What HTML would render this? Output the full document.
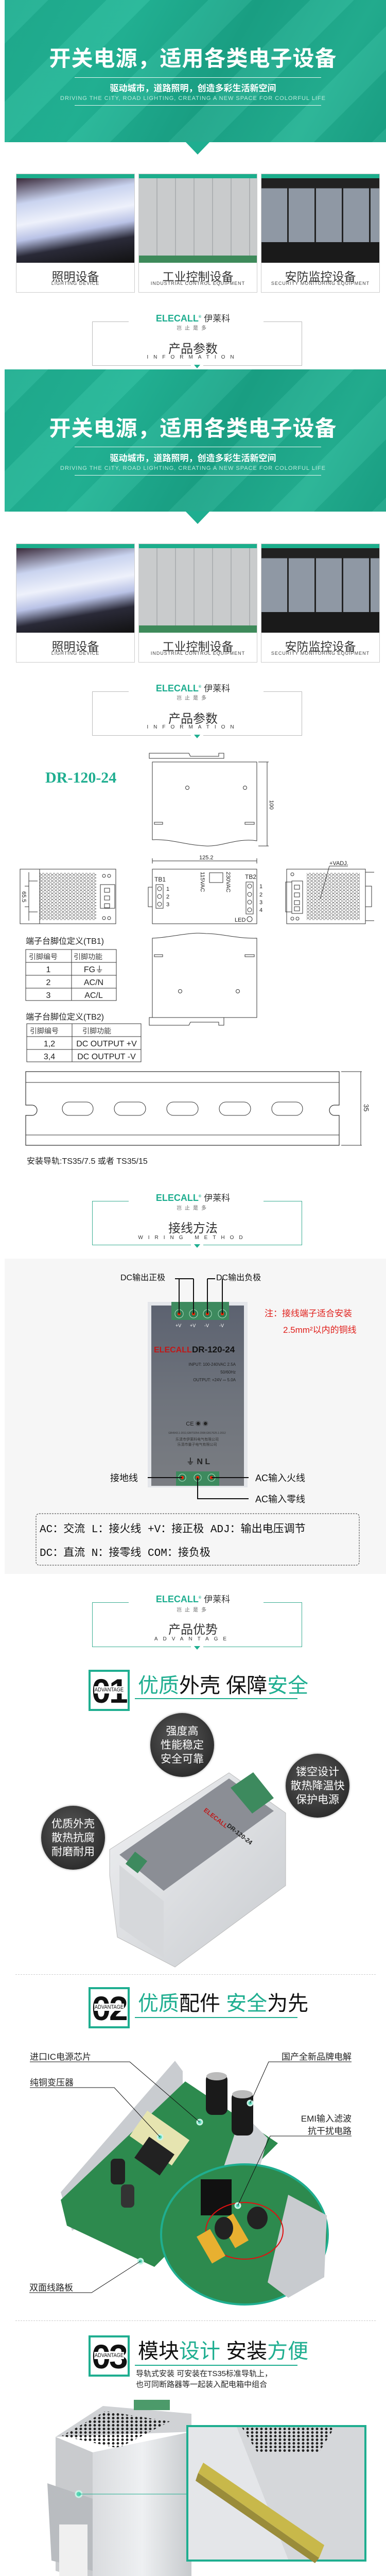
<!DOCTYPE html>
<html style="width:750px;height:5036px;overflow:hidden"><head><meta charset="utf-8">
<style>
*{margin:0;padding:0;box-sizing:border-box}
body{width:750px;height:5036px;position:relative;background:#fff;font-family:"Liberation Sans","Noto Sans CJK SC",sans-serif;overflow:hidden}
.a{position:absolute}
.c{text-align:center}
.banner{left:9px;width:741px;height:276px;background:linear-gradient(120deg,#1fae90 0%,#22b697 30%,#1aa487 55%,#23b293 80%,#1aa386 100%);overflow:hidden}
.banner:before{content:"";position:absolute;inset:0;background:repeating-linear-gradient(135deg,rgba(255,255,255,0.05) 0 60px,rgba(0,0,0,0.04) 60px 140px)}
.btitle{left:0;width:750px;color:#fff;font-size:42px;font-weight:bold;letter-spacing:1px}
.bline{left:145px;width:479px;height:1px;background:#e8f7f2}
.bsub{left:0;width:750px;color:#fff;font-size:17px;font-weight:bold}
.beng{left:0;width:750px;color:#bfeadc;font-size:11px;letter-spacing:1px}
.tri{width:0;height:0;border-left:24px solid transparent;border-right:24px solid transparent;border-top:25px solid #1fae90}
.card{width:231px;height:231px;border:1px solid #ccc;background:#fff}
.card .bar{position:absolute;left:0;top:0;width:100%;height:8px;background:#1cae8c}
.card .img{position:absolute;left:0;top:8px;width:100%;height:164px}
.card .cn{position:absolute;left:0;top:180px;width:100%;text-align:center;font-size:23px;color:#333}
.card .en{position:absolute;left:0;top:207px;width:100%;text-align:center;font-size:9px;color:#444;letter-spacing:1px}
.logo{left:0;width:750px;text-align:center;font-size:18px;font-weight:bold;color:#1fae90;line-height:22px}
.logo span{color:#333;font-weight:normal;font-size:17px}
.slog{left:0;width:750px;text-align:center;font-size:10px;color:#666;letter-spacing:6px}
.htitle{left:0;width:750px;text-align:center;font-size:24px;color:#333}
.heng{left:0;width:750px;text-align:center;font-size:10px;color:#333;letter-spacing:10px}
.badge{left:172px;width:80px;height:80px;border:4px solid #1fae90;background:#fff}
.badge .n{position:absolute;left:0;top:2px;width:100%;text-align:center;font-size:66px;font-weight:bold;color:#111;line-height:70px;letter-spacing:-3px}
.badge .t{position:absolute;left:2px;top:28px;width:68px;text-align:center;font-size:11px;background:#fff;color:#111;line-height:14px;transform:scaleX(0.85)}
.atitle{left:268px;font-size:40px;color:#111;white-space:nowrap;line-height:48px}
.atitle b{font-weight:normal;color:#1fae90}
.uline{left:262px;width:316px;height:2px;background:#1fae90}
.circ{width:124px;height:124px;border-radius:50%;background:radial-gradient(circle at 45% 40%,#5a5a5a,#2c2c2c 75%,#222);color:#fff;text-align:center;font-size:21px;line-height:27px;padding-top:22px;box-shadow:0 0 4px rgba(0,0,0,.4)}
.dsep{left:30px;width:700px;border-top:1px dashed #ccc}
</style></head><body>

<div class="a banner" style="top:0"></div>
<div class="a btitle c" style="top:80px">开关电源，适用各类电子设备</div>
<div class="a bline" style="top:150px"></div>
<div class="a bsub c" style="top:157px">驱动城市，道路照明，创造多彩生活新空间</div>
<div class="a beng c" style="top:185px">DRIVING THE CITY, ROAD LIGHTING, CREATING A NEW SPACE FOR COLORFUL LIFE</div>
<div class="a bline" style="top:204px"></div>
<div class="a tri" style="left:360px;top:275px"></div>

<div class="a card" style="left:31px;top:337px"><div class="bar"></div><div class="img" style="background:linear-gradient(170deg,#3a2a3a 0%,#c9d3ef 25%,#eef1fb 45%,#b9c2e6 60%,#2a2a38 75%,#111 100%)"></div><div class="cn">照明设备</div><div class="en">LIGHTING DEVICE</div></div>
<div class="a card" style="left:269px;top:337px"><div class="bar"></div><div class="img" style="background:repeating-linear-gradient(90deg,#c9cbcc 0 34px,#aeb1b3 34px 36px),#ccc"><div style="position:absolute;left:0;bottom:0;width:100%;height:14px;background:#3e8a5a"></div></div><div class="cn">工业控制设备</div><div class="en">INDUSTRIAL CONTROL EQUIPMENT</div></div>
<div class="a card" style="left:507px;top:337px"><div class="bar"></div><div class="img" style="background:linear-gradient(#222 0 12%,transparent 12%),repeating-linear-gradient(90deg,#8f98a4 0 50px,#222 50px 53px),#999"><div style="position:absolute;left:0;bottom:0;width:100%;height:40px;background:#1a1a1a"></div></div><div class="cn">安防监控设备</div><div class="en">SECURITY MONITORING EQUIPMENT</div></div>

<div class="a" style="left:179px;top:624px;width:408px;height:86px;border:1px solid #bbb;border-top:none"></div>
<div class="a" style="left:179px;top:624px;width:71px;height:1px;background:#bbb"></div>
<div class="a" style="left:512px;top:624px;width:75px;height:1px;background:#bbb"></div>
<div class="a" style="left:371px;top:707px;width:24px;height:6px;background:#fff"></div>
<div class="a" style="left:377px;top:708px;border-left:6px solid transparent;border-right:6px solid transparent;border-top:7px solid #1fae90"></div>
<div class="a logo" style="top:605px">ELECALL<sup style="font-size:7px">®</sup> <span>伊莱科</span></div>
<div class="a slog" style="top:628px">岂止是多</div>
<div class="a htitle" style="top:657px">产品参数</div>
<div class="a heng" style="top:688px">INFORMATION</div>

<div class="a banner" style="top:717px"></div>
<div class="a btitle c" style="top:798px">开关电源，适用各类电子设备</div>
<div class="a bline" style="top:867px"></div>
<div class="a bsub c" style="top:875px">驱动城市，道路照明，创造多彩生活新空间</div>
<div class="a beng c" style="top:903px">DRIVING THE CITY, ROAD LIGHTING, CREATING A NEW SPACE FOR COLORFUL LIFE</div>
<div class="a bline" style="top:922px"></div>
<div class="a tri" style="left:360px;top:992px"></div>

<div class="a card" style="left:31px;top:1055px"><div class="bar"></div><div class="img" style="background:linear-gradient(170deg,#3a2a3a 0%,#c9d3ef 25%,#eef1fb 45%,#b9c2e6 60%,#2a2a38 75%,#111 100%)"></div><div class="cn">照明设备</div><div class="en">LIGHTING DEVICE</div></div>
<div class="a card" style="left:269px;top:1055px"><div class="bar"></div><div class="img" style="background:repeating-linear-gradient(90deg,#c9cbcc 0 34px,#aeb1b3 34px 36px),#ccc"><div style="position:absolute;left:0;bottom:0;width:100%;height:14px;background:#3e8a5a"></div></div><div class="cn">工业控制设备</div><div class="en">INDUSTRIAL CONTROL EQUIPMENT</div></div>
<div class="a card" style="left:507px;top:1055px"><div class="bar"></div><div class="img" style="background:linear-gradient(#222 0 12%,transparent 12%),repeating-linear-gradient(90deg,#8f98a4 0 50px,#222 50px 53px),#999"><div style="position:absolute;left:0;bottom:0;width:100%;height:40px;background:#1a1a1a"></div></div><div class="cn">安防监控设备</div><div class="en">SECURITY MONITORING EQUIPMENT</div></div>

<div class="a" style="left:179px;top:1342px;width:408px;height:86px;border:1px solid #bbb;border-top:none"></div>
<div class="a" style="left:179px;top:1342px;width:71px;height:1px;background:#bbb"></div>
<div class="a" style="left:512px;top:1342px;width:75px;height:1px;background:#bbb"></div>
<div class="a" style="left:371px;top:1425px;width:24px;height:6px;background:#fff"></div>
<div class="a" style="left:377px;top:1426px;border-left:6px solid transparent;border-right:6px solid transparent;border-top:7px solid #1fae90"></div>
<div class="a logo" style="top:1323px">ELECALL<sup style="font-size:7px">®</sup> <span>伊莱科</span></div>
<div class="a slog" style="top:1346px">岂止是多</div>
<div class="a htitle" style="top:1375px">产品参数</div>
<div class="a heng" style="top:1406px">INFORMATION</div>

<div class="a" style="left:88px;top:1493px;font-family:'Liberation Serif',serif;font-weight:bold;font-size:30px;color:#1fae90">DR-120-24</div>
<svg class="a" style="left:0;top:1440px" width="750" height="820" viewBox="0 1440 750 820" font-family="Liberation Sans,sans-serif">
<defs><pattern id="hx" width="7" height="6" patternUnits="userSpaceOnUse"><circle cx="3.5" cy="3" r="2.6" fill="none" stroke="#333" stroke-width="0.6"/></pattern></defs>
<g fill="none" stroke="#333" stroke-width="1">
<path d="M290 1462 H367 L370 1468 H425 V1462 H435 V1472 H290 Z"/>
<path d="M296 1479 H499 V1632 C460,1626 430,1644 400,1642 C360,1640 330,1628 296,1630 Z"/>
<circle cx="364" cy="1529" r="3.5"/><circle cx="476" cy="1529" r="3.5"/>
<rect x="300" y="1596" width="16" height="4"/><rect x="476" y="1596" width="18" height="4"/>
<path d="M502 1479 H522 M502 1642 H522 M519 1479 V1642"/>
<path d="M296 1671 H499 M296 1666 V1676 M499 1666 V1676"/>
<rect x="296" y="1687" width="203" height="106"/>
<rect x="288" y="1722" width="8" height="38"/>
<rect x="303" y="1717" width="14" height="46"/>
<circle cx="310" cy="1725" r="4"/><circle cx="310" cy="1740" r="4"/><circle cx="310" cy="1755" r="4"/>
<rect x="407" y="1694" width="26" height="19"/>
<rect x="478" y="1712" width="14" height="62"/>
<circle cx="485" cy="1720" r="4"/><circle cx="485" cy="1736" r="4"/><circle cx="485" cy="1751" r="4"/><circle cx="485" cy="1766" r="4"/>
<circle cx="485" cy="1784" r="5"/>
<rect x="39" y="1687" width="186" height="106"/>
<path d="M56 1693 V1787 M77 1687 V1793 M56 1710 H73 M56 1770 H73 M48 1720 H56 V1760 H48"/>
<rect x="195" y="1717" width="28" height="46"/>
<rect x="203" y="1724" width="10" height="8"/><rect x="203" y="1739" width="10" height="8"/><rect x="203" y="1754" width="10" height="8"/>
<rect x="77" y="1694" width="110" height="92" fill="url(#hx)" stroke="none"/>
<circle cx="202" cy="1700" r="3"/><circle cx="212" cy="1700" r="3"/><circle cx="202" cy="1782" r="3"/><circle cx="212" cy="1782" r="3"/>
<rect x="557" y="1687" width="153" height="106"/>
<path d="M710 1693 H727 M710 1787 H727 M710 1720 H722 V1760 H710"/>
<rect x="555" y="1712" width="12" height="58"/>
<rect x="567" y="1710" width="21" height="63"/>
<rect x="572" y="1718" width="10" height="8"/><rect x="572" y="1733" width="10" height="8"/><rect x="572" y="1748" width="10" height="8"/><rect x="572" y="1760" width="10" height="8"/>
<rect x="596" y="1694" width="103" height="92" fill="url(#hx)" stroke="none"/>
<path d="M640 1681 H676 M640 1681 L622 1745"/>
<circle cx="568" cy="1697" r="3"/><circle cx="568" cy="1783" r="3"/><circle cx="578" cy="1783" r="3"/>
<path d="M296 1821 C330,1820 370,1808 400,1812 C430,1812 460,1822 499,1821 V1975 H296 Z"/>
<rect x="300" y="1853" width="16" height="4"/><rect x="476" y="1853" width="18" height="4"/>
<circle cx="350" cy="1924" r="3.5"/><circle cx="462" cy="1924" r="3.5"/>
<path d="M290 1975 H435 V1990 H425 V1984 H370 L367 1990 H290 Z"/>
<rect x="50" y="1843" width="176" height="99"/>
<path d="M50 1868 H226 M50 1893 H226 M50 1918 H226 M139 1843 V1942"/>
<rect x="52" y="1987" width="222" height="74"/>
<path d="M52 2012 H274 M52 2037 H274 M140 1987 V2061"/>
<path d="M50 2080 H659 V2145 H650 A9 9 0 0 0 650 2165 H659 V2223 H50 V2165 H62 A9 9 0 0 0 62 2145 H50 Z" stroke-width="1.2"/>
<path d="M50 2101 H659 M50 2203 H659"/>
<rect x="121" y="2139" width="60" height="26" rx="13"/>
<rect x="222" y="2139" width="61" height="26" rx="13"/>
<rect x="324" y="2139" width="61" height="26" rx="13"/>
<rect x="426" y="2139" width="61" height="26" rx="13"/>
<rect x="528" y="2139" width="60" height="26" rx="13"/>
<path d="M663 2080 H703 M663 2223 H703 M701 2080 V2223"/>
</g>
<g font-size="11" fill="#222">
<text x="524" y="1553" transform="rotate(90 524 1553)">100</text>
<text x="387" y="1668">125.2</text>
<text x="300" y="1711" font-size="12">TB1</text>
<text x="323" y="1729">1</text><text x="323" y="1744">2</text><text x="323" y="1759">3</text>
<text x="390" y="1692" transform="rotate(90 390 1692)">115VAC</text>
<text x="440" y="1692" transform="rotate(90 440 1692)">230VAC</text>
<text x="476" y="1706" font-size="12">TB2</text>
<text x="504" y="1724">1</text><text x="504" y="1740">2</text><text x="504" y="1755">3</text><text x="504" y="1770">4</text>
<text x="456" y="1789">LED</text>
<text x="43" y="1730" transform="rotate(90 43 1730)">65.5</text>
<text x="640" y="1679">+VADJ.</text>
<text x="707" y="2143" transform="rotate(90 707 2143)" font-size="13">35</text>
</g>
<g font-size="16" fill="#222" font-family="Liberation Sans,Noto Sans CJK SC,sans-serif">
<text x="50" y="1832">端子台脚位定义(TB1)</text>
<text x="56" y="1862" font-size="14" fill="#444">引脚编号</text><text x="143" y="1862" font-size="14" fill="#444">引脚功能</text>
<text x="94" y="1887" text-anchor="middle">1</text><text x="182" y="1887" text-anchor="middle">FG⏚</text>
<text x="94" y="1912" text-anchor="middle">2</text><text x="182" y="1912" text-anchor="middle">AC/N</text>
<text x="94" y="1937" text-anchor="middle">3</text><text x="182" y="1937" text-anchor="middle">AC/L</text>
<text x="50" y="1979">端子台脚位定义(TB2)</text>
<text x="58" y="2006" font-size="14" fill="#444">引脚编号</text><text x="160" y="2006" font-size="14" fill="#444">引脚功能</text>
<text x="96" y="2031" text-anchor="middle">1,2</text><text x="207" y="2031" text-anchor="middle">DC OUTPUT +V</text>
<text x="96" y="2056" text-anchor="middle">3,4</text><text x="207" y="2056" text-anchor="middle">DC OUTPUT -V</text>
<text x="52" y="2259">安装导轨:TS35/7.5 或者 TS35/15</text>
</g>
</svg>

<div class="a" style="left:179px;top:2331px;width:408px;height:86px;border:1px solid #3aae92;border-top:none"></div>
<div class="a" style="left:179px;top:2331px;width:71px;height:1px;background:#3aae92"></div>
<div class="a" style="left:512px;top:2331px;width:75px;height:1px;background:#3aae92"></div>
<div class="a" style="left:371px;top:2414px;width:24px;height:6px;background:#fff"></div>
<div class="a" style="left:377px;top:2415px;border-left:6px solid transparent;border-right:6px solid transparent;border-top:7px solid #1fae90"></div>
<div class="a logo" style="top:2312px">ELECALL<sup style="font-size:7px">®</sup> <span>伊莱科</span></div>
<div class="a slog" style="top:2336px">岂止是多</div>
<div class="a htitle" style="top:2364px">接线方法</div>
<div class="a heng" style="top:2397px">WIRING METHOD</div>

<div class="a" style="left:9px;top:2443px;width:741px;height:612px;background:#f6f6f6"></div>
<svg class="a" style="left:0;top:2443px" width="750" height="612" viewBox="0 2443 750 612" font-family="Liberation Sans,Noto Sans CJK SC,sans-serif">
<defs><linearGradient id="dg" x1="0" y1="0" x2="0" y2="1"><stop offset="0" stop-color="#5c6270"/><stop offset="0.5" stop-color="#6e737c"/><stop offset="1" stop-color="#7a7d82"/></linearGradient></defs>
<rect x="287" y="2527" width="194" height="360" fill="#e4e6ea"/>
<rect x="294" y="2534" width="180" height="350" fill="url(#dg)"/>
<rect x="333" y="2527" width="112" height="35" fill="#3d8a5e"/>
<g fill="#2f7a52" stroke="#9fd6b5" stroke-width="1.2">
<circle cx="348" cy="2550" r="8"/><circle cx="376" cy="2550" r="8"/><circle cx="403" cy="2550" r="8"/><circle cx="432" cy="2550" r="8"/></g>
<g fill="#f20"><circle cx="348" cy="2550" r="3"/><circle cx="376" cy="2550" r="3"/><circle cx="403" cy="2550" r="3"/><circle cx="432" cy="2550" r="3"/></g>
<g stroke="#111" stroke-width="2" fill="none">
<path d="M340 2482 H376 M348 2482 V2550 M376 2482 V2550 M418 2482 H403 M403 2482 V2550 M432 2482 V2550"/>
</g>
<g fill="#fff" font-size="9"><text x="341" y="2576">+V</text><text x="369" y="2576">+V</text><text x="397" y="2576">-V</text><text x="426" y="2576">-V</text></g>
<text x="234" y="2485" font-size="16" fill="#111">DC输出正极</text>
<text x="420" y="2485" font-size="16" fill="#111">DC输出负极</text>
<text x="514" y="2555" font-size="17" fill="#e0201c">注：接线端子适合安装</text>
<text x="550" y="2587" font-size="17" fill="#e0201c">2.5mm²以内的铜线</text>
<text x="299" y="2625" font-size="16" fill="#c01818" font-weight="bold">ELECALL</text>
<text x="373" y="2625" font-size="17" fill="#111" font-weight="bold">DR-120-24</text>
<g font-size="8" fill="#222" text-anchor="end"><text x="458" y="2651">INPUT:  100-240VAC 2.5A</text><text x="458" y="2666">50/60Hz</text><text x="458" y="2681">OUTPUT:  +24V ⎓ 5.0A</text></g>
<text x="383" y="2767" font-size="11" fill="#222" text-anchor="middle">CE ◉ ◉</text>
<text x="383" y="2783" font-size="5" fill="#333" text-anchor="middle">GB4943.1-2011;GB/T9254-2008;GB17625.1-2012</text>
<text x="383" y="2796" font-size="7" fill="#333" text-anchor="middle">乐清市伊莱科电气有限公司</text>
<text x="383" y="2806" font-size="7" fill="#333" text-anchor="middle">乐清市量子电气有限公司</text>
<text x="385" y="2842" font-size="16" fill="#222" font-weight="bold" text-anchor="middle">⏚  N  L</text>
<rect x="342" y="2856" width="84" height="28" fill="#3d8a5e"/>
<g fill="#2f7a52" stroke="#9fd6b5" stroke-width="1.2"><circle cx="354" cy="2868" r="7"/><circle cx="384" cy="2868" r="7"/><circle cx="411" cy="2868" r="7"/></g>
<g fill="#f20"><circle cx="354" cy="2868" r="3"/><circle cx="384" cy="2868" r="3"/><circle cx="411" cy="2868" r="3"/></g>
<g stroke="#111" stroke-width="2" fill="none"><path d="M287 2868 H354 M411 2868 H483 M384 2868 V2909 H483"/></g>
<g font-size="18" fill="#111"><text x="214" y="2875">接地线</text><text x="496" y="2875">AC输入火线</text><text x="496" y="2916">AC输入零线</text></g>
<rect x="70" y="2938" width="628" height="100" rx="6" fill="none" stroke="#333" stroke-dasharray="3 2"/>
<g font-size="21" fill="#111" font-family="Liberation Mono,Noto Sans CJK SC,monospace"><text x="77" y="2974">AC：交流  L：接火线  +V：接正极  ADJ：输出电压调节</text>
<text x="77" y="3020">DC：直流  N：接零线 COM：接负极</text></g>
</svg>

<div class="a" style="left:179px;top:3110px;width:408px;height:87px;border:1px solid #3aae92;border-top:none"></div>
<div class="a" style="left:179px;top:3110px;width:71px;height:1px;background:#3aae92"></div>
<div class="a" style="left:512px;top:3110px;width:75px;height:1px;background:#3aae92"></div>
<div class="a" style="left:371px;top:3194px;width:24px;height:6px;background:#fff"></div>
<div class="a" style="left:377px;top:3195px;border-left:6px solid transparent;border-right:6px solid transparent;border-top:7px solid #1fae90"></div>
<div class="a logo" style="top:3091px">ELECALL<sup style="font-size:7px">®</sup> <span>伊莱科</span></div>
<div class="a slog" style="top:3116px">岂止是多</div>
<div class="a htitle" style="top:3143px">产品优势</div>
<div class="a heng" style="top:3176px">ADVANTAGE</div>

<div class="a badge" style="top:3241px"><div class="n">01</div><div class="t">ADVANTAGE</div></div>
<div class="a atitle" style="top:3248px"><b>优质</b>外壳  保障<b>安全</b></div>
<div class="a uline" style="top:3296px"></div>
<svg class="a" style="left:0;top:3420px" width="750" height="410" viewBox="0 3420 750 410">
<defs><linearGradient id="sv" x1="0" y1="0" x2="1" y2="1"><stop offset="0" stop-color="#f0f1f3"/><stop offset="1" stop-color="#c8cbcf"/></linearGradient></defs>
<path d="M213 3590 L445 3441 L555 3519 L555 3660 L340 3818 L228 3760 L213 3640 Z" fill="url(#sv)" stroke="#bbb"/>
<path d="M232 3600 L445 3452 L532 3515 L318 3670 Z" fill="#8b8e95"/>
<path d="M448 3470 L492 3440 L532 3490 L490 3520 Z" fill="#3d8a5e"/>
<text x="395" y="3515" font-size="12" fill="#c01818" font-weight="bold" transform="rotate(38 395 3515)">ELECALL</text>
<text x="440" y="3545" font-size="12" fill="#222" font-weight="bold" transform="rotate(38 440 3545)">DR-120-24</text>
<path d="M232 3620 L318 3690 L318 3800 L232 3740 Z" fill="#d6d8db"/>
<rect x="250" y="3600" width="30" height="30" fill="#3d8a5e" transform="rotate(38 265 3615)"/>
</svg>
<div class="a circ" style="left:292px;top:3325px">强度高<br>性能稳定<br>安全可靠</div>
<div class="a circ" style="left:555px;top:3404px">镂空设计<br>散热降温快<br>保护电源</div>
<div class="a circ" style="left:80px;top:3505px">优质外壳<br>散热抗腐<br>耐磨耐用</div>
<div class="a dsep" style="top:3832px"></div>

<div class="a badge" style="top:3857px"><div class="n">02</div><div class="t">ADVANTAGE</div></div>
<div class="a atitle" style="top:3865px"><b>优质</b>配件  <b>安全</b>为先</div>
<div class="a uline" style="top:3915px"></div>
<svg class="a" style="left:0;top:3980px" width="750" height="520" viewBox="0 3980 750 520">
<path d="M118 4255 L340 4000 L355 4020 L355 4200 L140 4330 Z" fill="#c9ccd0"/>
<path d="M118 4270 L360 4040 L540 4160 L300 4400 L130 4320 Z" fill="#2d8a4e"/>
<path d="M470 4100 L520 4150 L480 4300 L420 4250 Z" fill="#cfd2d6"/>
<rect x="260" y="4120" width="100" height="60" fill="#e6e4b0" transform="rotate(35 310 4150)"/>
<rect x="270" y="4160" width="60" height="50" fill="#222" transform="rotate(35 300 4185)"/>
<rect x="400" y="4025" width="42" height="80" rx="12" fill="#1a1a1a"/>
<rect x="450" y="4060" width="42" height="85" rx="12" fill="#1a1a1a"/>
<ellipse cx="421" cy="4030" rx="20" ry="8" fill="#bbb"/><ellipse cx="471" cy="4065" rx="20" ry="8" fill="#bbb"/>
<rect x="215" y="4190" width="28" height="50" rx="8" fill="#222"/><rect x="235" y="4240" width="26" height="45" rx="8" fill="#333"/>
<ellipse cx="475" cy="4337" rx="162" ry="136" fill="#2d8a4e" stroke="#1fae90" stroke-width="4"/>
<path d="M560 4260 L635 4300 L630 4420 L560 4460 L520 4430 Z" fill="#c8cbcf"/>
<rect x="390" y="4230" width="60" height="70" fill="#111"/>
<ellipse cx="475" cy="4330" rx="75" ry="55" fill="none" stroke="#e01010" stroke-width="2"/>
<rect x="440" y="4300" width="30" height="60" fill="#e8b030" transform="rotate(-30 455 4330)"/>
<rect x="395" y="4330" width="30" height="60" fill="#e8b030" transform="rotate(-30 410 4360)"/>
<ellipse cx="500" cy="4305" rx="20" ry="22" fill="#222"/><ellipse cx="435" cy="4325" rx="18" ry="22" fill="#222"/>
<g fill="#58d6b6" stroke="#c8f3e6" stroke-width="3"><circle cx="388" cy="4119" r="5"/><circle cx="311" cy="4148" r="5"/><circle cx="486" cy="4082" r="5"/><circle cx="462" cy="4281" r="5"/><circle cx="273" cy="4389" r="5"/></g>
<g stroke="#111" stroke-width="1" fill="none">
<path d="M58 4002 H252 L388 4119 M58 4052 H222 L311 4148 M683 4002 H522 L486 4082 M683 4146 H525 L462 4281 M57 4450 H178 L273 4389"/>
</g>
<g font-size="17" fill="#222" font-family="Liberation Sans,Noto Sans CJK SC,sans-serif">
<text x="58" y="3998">进口IC电源芯片</text><text x="58" y="4048">纯铜变压器</text>
<text x="683" y="3998" text-anchor="end">国产全新品牌电解</text>
<text x="683" y="4118" text-anchor="end">EMI输入滤波</text><text x="683" y="4142" text-anchor="end">抗干扰电路</text>
<text x="57" y="4446">双面线路板</text></g>
</svg>
<div class="a dsep" style="top:4504px"></div>

<div class="a badge" style="top:4533px"><div class="n">03</div><div class="t">ADVANTAGE</div></div>
<div class="a atitle" style="top:4540px">模块<b>设计</b>  安装<b>方便</b></div>
<div class="a uline" style="top:4590px"></div>
<div class="a" style="left:264px;top:4597px;font-size:15px;color:#222;line-height:21px;white-space:nowrap">导轨式安装  可安装在TS35标准导轨上，<br>也可同断路器等一起装入配电箱中组合</div>
<svg class="a" style="left:0;top:4650px" width="750" height="386" viewBox="0 4650 750 386">
<defs><linearGradient id="sl" x1="0" y1="0" x2="1" y2="0"><stop offset="0" stop-color="#d9dbde"/><stop offset="0.5" stop-color="#eef0f2"/><stop offset="1" stop-color="#c7cacd"/></linearGradient>
<pattern id="ph" width="9" height="7" patternUnits="userSpaceOnUse"><circle cx="4" cy="3.5" r="2.5" fill="#222"/></pattern></defs>
<path d="M108 4730 L200 4670 L372 4685 L372 4720 Z" fill="#d0d2d5"/>
<path d="M120 4728 L205 4680 L330 4700 L230 4752 Z" fill="url(#ph)"/>
<rect x="260" y="4658" width="70" height="20" fill="#4c9a6a"/>
<path d="M108 4730 L180 4760 L180 5010 L108 4990 Z" fill="#c9cbce"/>
<path d="M180 4760 L372 4720 L372 5010 L180 5010 Z" fill="url(#sl)"/>
<path d="M92 4820 L180 4850 L180 4990 L100 4970 Z" fill="#b9bcc0"/>
<rect x="115" y="4900" width="55" height="120" fill="#f0f0f0"/>
<circle cx="153" cy="4841" r="6" fill="#58d6b6" stroke="#c8f3e6" stroke-width="3"/>
<path d="M153 4841 H362" stroke="#1fae90" stroke-width="1"/>
<rect x="364" y="4709" width="346" height="261" fill="#e4e6e9" stroke="#1fae90" stroke-width="4"/>
<path d="M460 4711 L708 4711 L708 4968 L560 4968 Z" fill="#d5d7da"/>
<path d="M470 4712 L650 4712 L620 4760 L500 4760 Z" fill="url(#ph)"/>
<path d="M385 4800 L395 4780 L630 4940 L620 4965 Z" fill="#c8b84a"/>
<path d="M385 4800 L620 4965 L612 4975 L380 4815 Z" fill="#9a8c3a"/>
</svg>
</body></html>
